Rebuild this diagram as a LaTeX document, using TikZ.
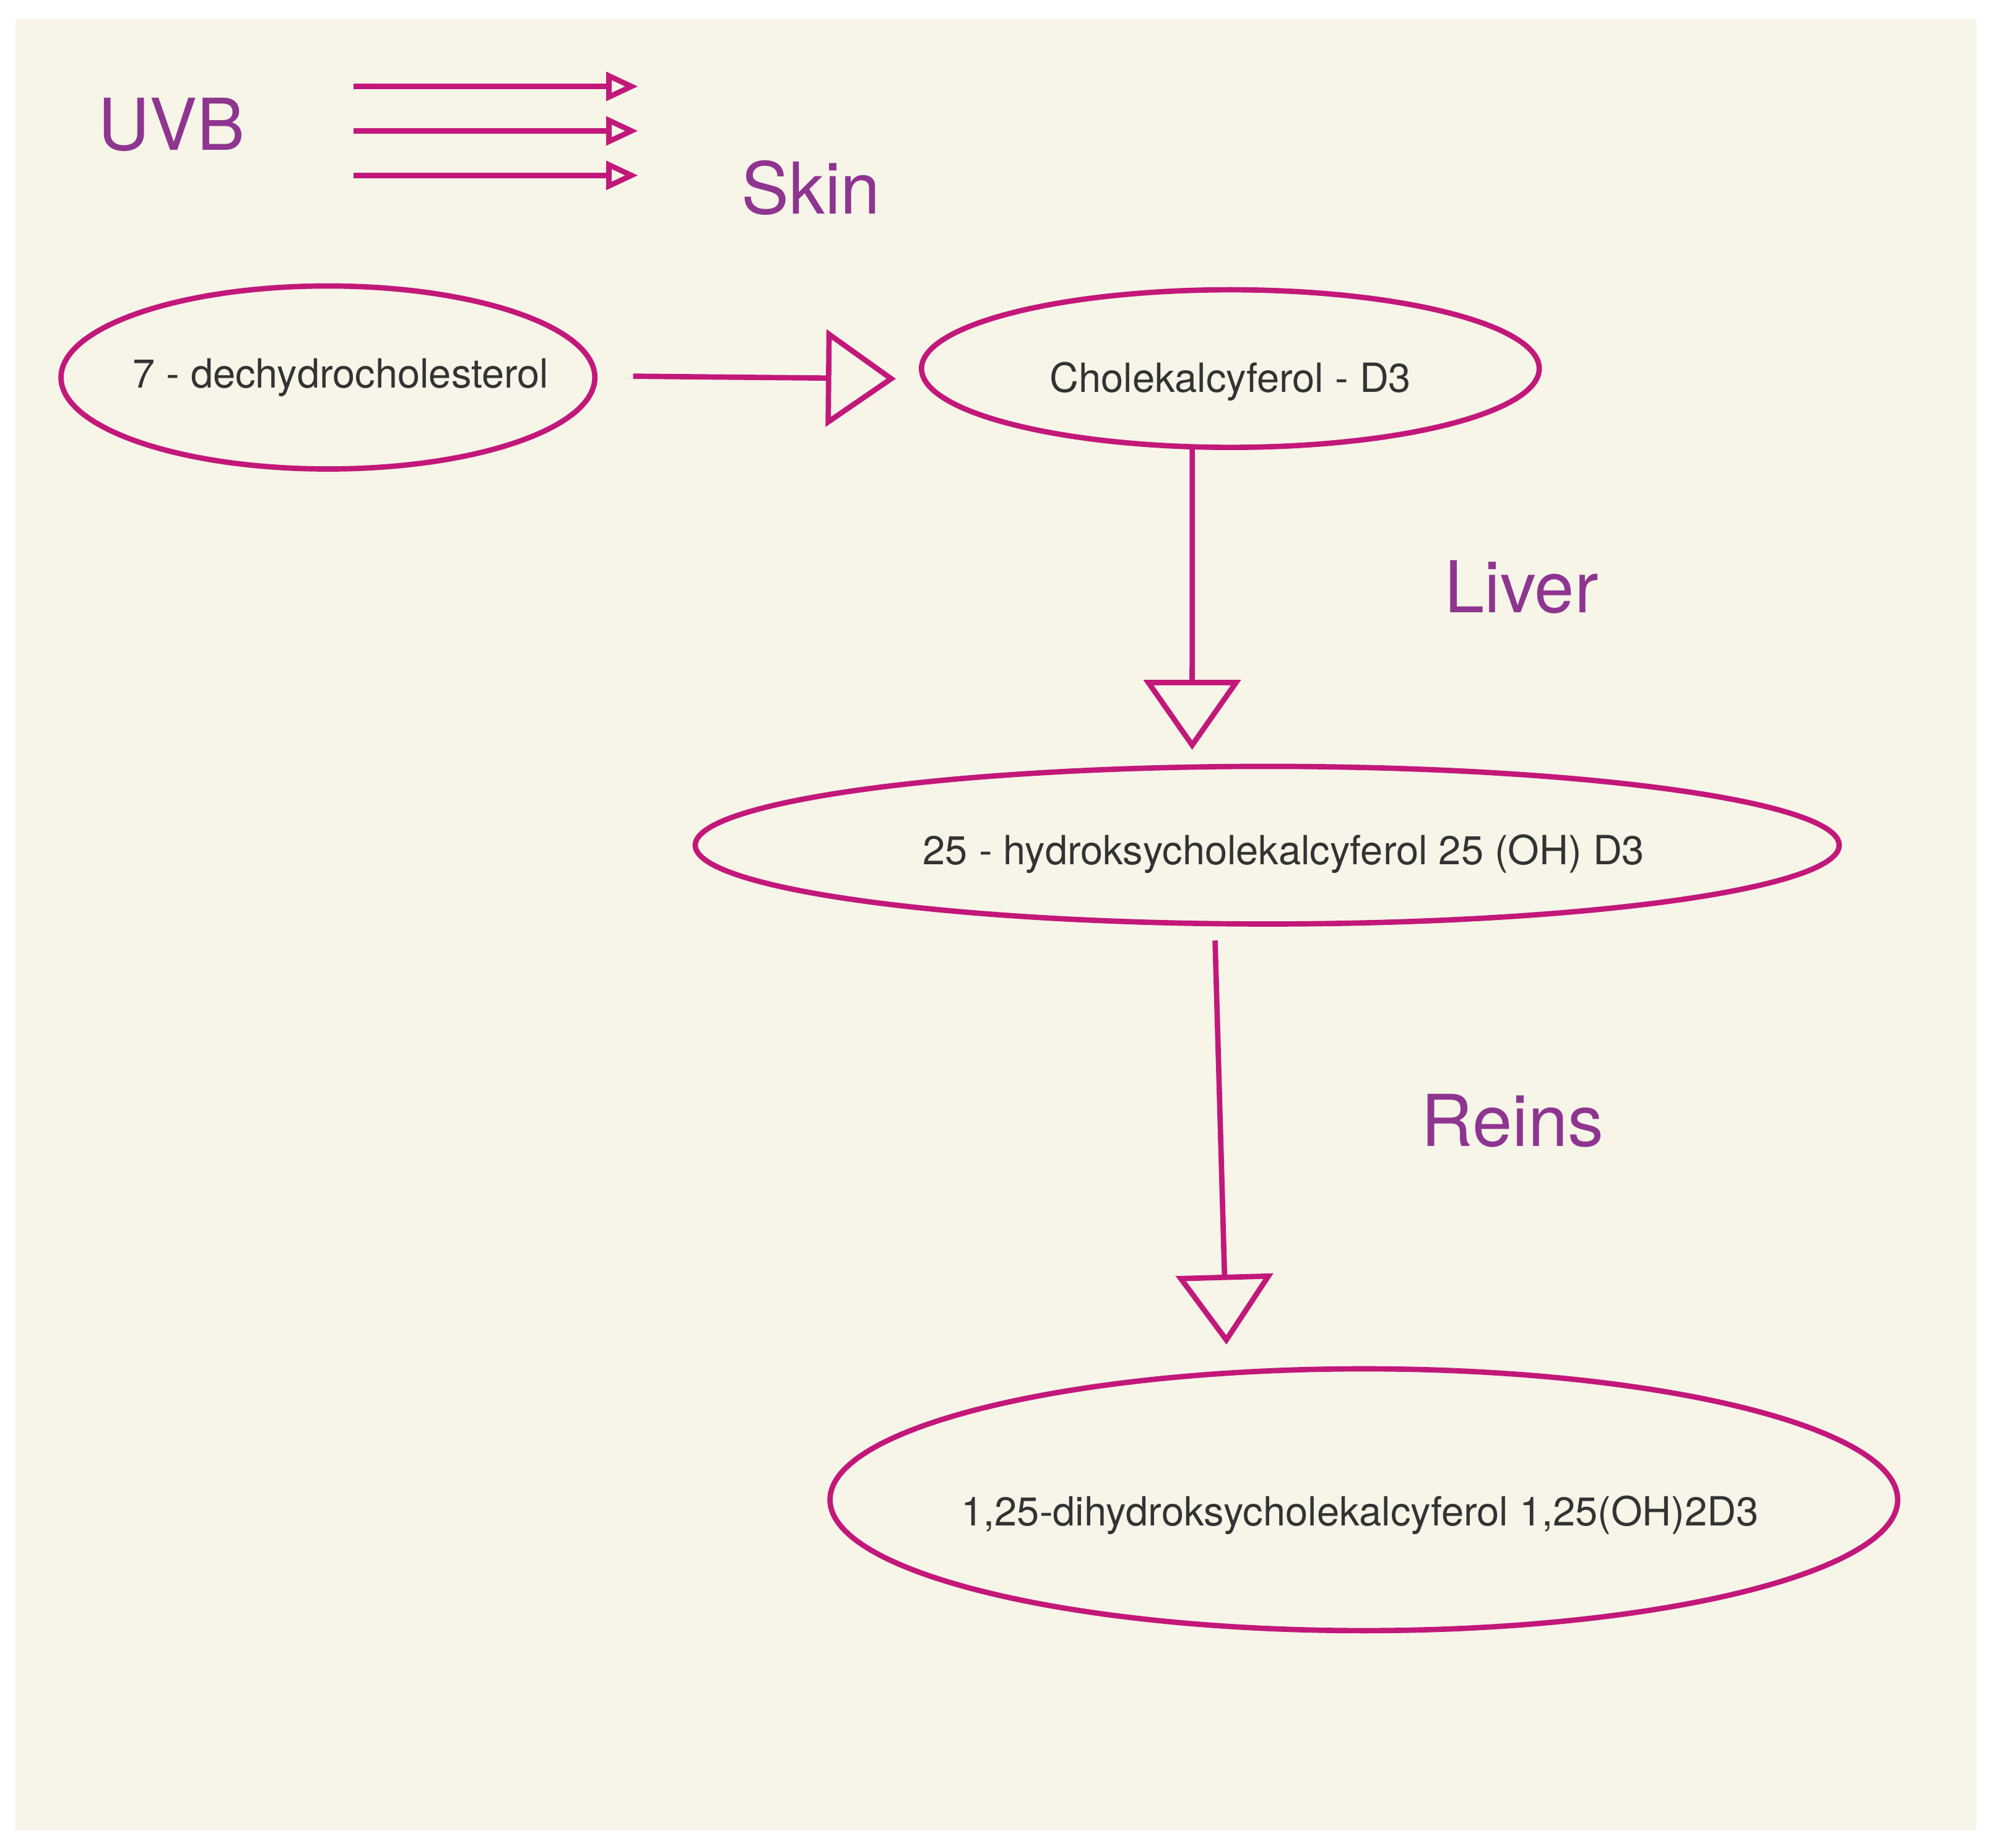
\documentclass[tikz,border=0pt]{standalone}
\usepackage{fontspec}
\setmainfont{TeX Gyre Heros}
\usetikzlibrary{arrows.meta}
\definecolor{cream}{HTML}{F7F4E8}
\definecolor{magline}{HTML}{C2187A}
\definecolor{labpurple}{HTML}{8E3590}
\definecolor{txtgray}{HTML}{333333}
\begin{document}
\begin{tikzpicture}[x=0.01cm,y=-0.01cm,
  stage/.style={inner sep=0pt, text=txtgray, font=\fontsize{9}{11}\selectfont},
  rim/.style={draw=magline, line width=1.2pt},
  organ/.style={text=labpurple, font=\fontsize{16}{19}\selectfont},
  ray/.style={draw=magline, line width=1.2pt,
    -{Triangle[open, length=0.25cm, width=0.22cm]}},
  bigarrow/.style={draw=magline, line width=1.2pt,
    -{Triangle[open, length=0.55cm, width=0.76cm]}}]
  \useasboundingbox (0,0) rectangle (1568,1454);
  \fill[white] (0,0) rectangle (1568,1454);
  \fill[cream] (12,15) rectangle (1555,1440);
  % labels
  \node[organ] (uvb) at (135,98) {UVB};
  \node[organ] (skin) at (638,148) {Skin};
  \node[organ] (liver) at (1197,462) {Liver};
  \node[organ] (reins) at (1190,882) {Reins};
  % rays
  \foreach \y/\n in {68/a,103/b,138/c}{
    \coordinate (r\n1) at (278,\y);
    \coordinate (r\n2) at (502,\y);
    \draw[ray] (r\n1) -- (r\n2);
  }
  % stages
  \node[stage] (dehydro) at (268,297) {7 - dechydrocholesterol};
  \draw[rim] (258,297) ellipse [x radius=210, y radius=72];
  \node[stage] (chole) at (968,300) {Cholekalcyferol - D3};
  \draw[rim] (968,290) ellipse [x radius=243, y radius=62];
  \node[stage] (hydro) at (1010,672) {25 - hydroksycholekalcyferol 25 (OH) D3};
  \draw[rim] (997,665) ellipse [x radius=450, y radius=62];
  \node[stage] (dihydro) at (1070,1192) {1,25-dihydroksycholekalcyferol 1,25(OH)2D3};
  \draw[rim] (1073,1180) ellipse [x radius=420, y radius=103];
  % connectors
  \draw[bigarrow] ([xshift=2.3cm,yshift=0.01cm]dehydro.center) -- ([xshift=-2.63cm,yshift=0.02cm]chole.center);
  \draw[bigarrow] ([xshift=-0.3cm,yshift=-0.5cm]chole.center) -- ([xshift=-0.72cm,yshift=0.82cm]hydro.center);
  \draw[bigarrow] ([xshift=-0.54cm,yshift=-0.68cm]hydro.center) -- ([xshift=-1.05cm,yshift=1.34cm]dihydro.center);
\end{tikzpicture}
\end{document}
